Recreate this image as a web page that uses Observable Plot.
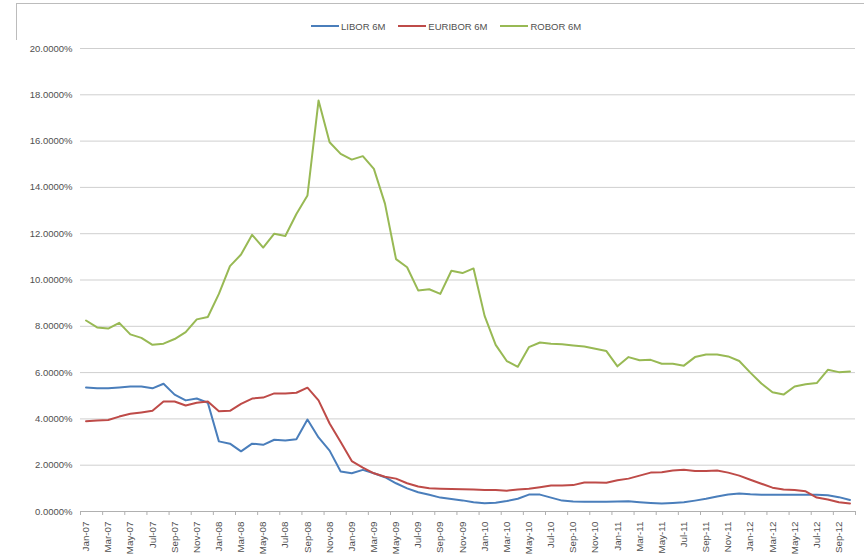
<!DOCTYPE html>
<html>
<head>
<meta charset="utf-8">
<script src="https://cdn.jsdelivr.net/npm/d3@7"></script>
<script src="https://cdn.jsdelivr.net/npm/@observablehq/plot@0.6"></script>
<style>
  html, body { margin: 0; padding: 0; background: #fff; }
  body { width: 864px; height: 557px; position: relative; overflow: hidden; font-family: "Liberation Sans", Arial, sans-serif; }
  #frame { position: absolute; left: 16px; top: 3px; width: 900px; height: 600px; border-left: 1px solid #bcbcbc; border-top: 1px solid #bcbcbc; pointer-events: none; }
  #legend { position: absolute; left: 311px; top: 19px; height: 14px; display: flex; align-items: center; font-size: 9.5px; color: #505050; white-space: nowrap; }
  #legend .item { display: flex; align-items: center; margin-right: 13px; }
  #legend .sw { width: 28px; height: 2px; margin-right: 2px; }
  #chart { position: absolute; left: 0; top: 40px; }
</style>
</head>
<body>
<div id="frame"></div>
<div id="legend"></div>
<div id="chart"></div>
<script>
const monthLabels = [
  "Jan-07","Feb-07","Mar-07","Apr-07","May-07","Jun-07","Jul-07","Aug-07","Sep-07","Oct-07","Nov-07","Dec-07",
  "Jan-08","Feb-08","Mar-08","Apr-08","May-08","Jun-08","Jul-08","Aug-08","Sep-08","Oct-08","Nov-08","Dec-08",
  "Jan-09","Feb-09","Mar-09","Apr-09","May-09","Jun-09","Jul-09","Aug-09","Sep-09","Oct-09","Nov-09","Dec-09",
  "Jan-10","Feb-10","Mar-10","Apr-10","May-10","Jun-10","Jul-10","Aug-10","Sep-10","Oct-10","Nov-10","Dec-10",
  "Jan-11","Feb-11","Mar-11","Apr-11","May-11","Jun-11","Jul-11","Aug-11","Sep-11","Oct-11","Nov-11","Dec-11",
  "Jan-12","Feb-12","Mar-12","Apr-12","May-12","Jun-12","Jul-12","Aug-12","Sep-12","Oct-12"
];
const libor = [
  5.36,5.32,5.32,5.36,5.40,5.40,5.32,5.52,5.05,4.80,4.88,4.70,
  3.03,2.93,2.60,2.93,2.88,3.10,3.07,3.12,3.97,3.20,2.63,1.73,
  1.65,1.80,1.65,1.48,1.22,1.00,0.83,0.72,0.60,0.54,0.48,0.40,
  0.36,0.38,0.45,0.55,0.73,0.73,0.60,0.47,0.43,0.42,0.42,0.42,
  0.43,0.44,0.40,0.37,0.35,0.37,0.40,0.47,0.55,0.65,0.73,0.78,
  0.74,0.72,0.72,0.72,0.72,0.72,0.72,0.70,0.62,0.50
];
const euribor = [
  3.90,3.93,3.95,4.10,4.22,4.28,4.35,4.75,4.75,4.58,4.70,4.75,
  4.33,4.35,4.65,4.88,4.92,5.10,5.10,5.13,5.35,4.80,3.80,3.00,
  2.18,1.90,1.65,1.50,1.42,1.22,1.08,1.00,0.98,0.97,0.96,0.95,
  0.93,0.93,0.90,0.95,0.98,1.05,1.12,1.12,1.14,1.25,1.25,1.24,
  1.35,1.42,1.55,1.68,1.70,1.77,1.80,1.75,1.75,1.77,1.68,1.55,
  1.37,1.20,1.03,0.95,0.93,0.87,0.60,0.52,0.40,0.35
];
const robor = [
  8.25,7.95,7.90,8.15,7.65,7.50,7.20,7.25,7.45,7.75,8.30,8.40,
  9.40,10.60,11.10,11.95,11.40,12.00,11.90,12.85,13.65,17.75,15.95,15.45,
  15.20,15.35,14.80,13.30,10.90,10.55,9.55,9.60,9.40,10.40,10.30,10.50,
  8.45,7.20,6.50,6.25,7.10,7.30,7.25,7.22,7.17,7.13,7.03,6.93,
  6.27,6.67,6.53,6.55,6.38,6.38,6.30,6.67,6.78,6.78,6.70,6.50,
  6.00,5.53,5.15,5.05,5.40,5.50,5.55,6.12,6.02,6.05
];
const seriesNames = ["LIBOR 6M", "EURIBOR 6M", "ROBOR 6M"];
const seriesColors = ["#4a7ebb", "#be4b48", "#98b954"];
const yTicks = [0, 2, 4, 6, 8, 10, 12, 14, 16, 18, 20];

const seriesValues = [libor, euribor, robor];
const rows = [];
seriesValues.forEach((vals, s) => vals.forEach((v, i) => rows.push({ i, value: v, series: seriesNames[s] })));

const labelTicks = monthLabels.map((_, i) => i).filter(i => i % 2 === 0);
const boundaryTicks = labelTicks.map(i => i - 0.5).concat([monthLabels.length - 0.5]);

// legend
const legend = document.getElementById("legend");
seriesNames.forEach((name, k) => {
  const item = document.createElement("div");
  item.className = "item";
  const sw = document.createElement("span");
  sw.className = "sw";
  sw.style.background = seriesColors[k];
  const t = document.createElement("span");
  t.textContent = name;
  item.appendChild(sw); item.appendChild(t);
  legend.appendChild(item);
});

const chart = Plot.plot({
  width: 864,
  height: 517,
  marginLeft: 80,
  marginRight: 9,
  marginTop: 8,
  marginBottom: 46,
  style: { fontFamily: "Liberation Sans, Arial, sans-serif", color: "#505050", background: "#fff" },
  x: { type: "linear", domain: [-0.5, monthLabels.length - 0.5] },
  y: { domain: [0, 20] },
  color: { domain: seriesNames, range: seriesColors },
  marks: [
    Plot.ruleY(yTicks.filter(d => d > 0), { stroke: "#cfcfcf", strokeWidth: 1 }),
    Plot.ruleY([0], { stroke: "#b0b0b0", strokeWidth: 1 }),
    Plot.axisY({ ticks: yTicks, tickSize: 0, tickPadding: 8, fontSize: 9.5, tickFormat: d => d.toFixed(4) + "%", label: null }),
    Plot.axisX({ ticks: boundaryTicks, tickSize: 4, tickFormat: () => "", stroke: "#b0b0b0", label: null }),
    Plot.axisX({ ticks: labelTicks, tickSize: 0, tickPadding: 10, tickRotate: -90, fontSize: 9.8, tickFormat: i => monthLabels[i], label: null }),
    Plot.line(rows, { x: "i", y: "value", z: "series", stroke: "series", strokeWidth: 2, curve: "linear" })
  ]
});
document.getElementById("chart").appendChild(chart);
</script>
</body>
</html>
